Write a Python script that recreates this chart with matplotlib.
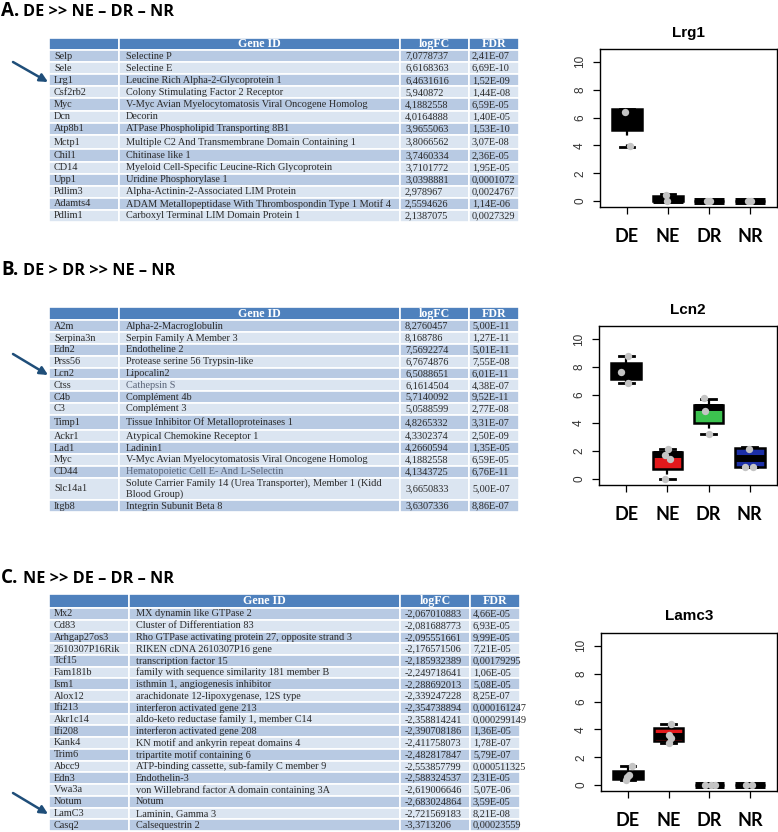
import matplotlib
matplotlib.use("Agg")
import matplotlib.pyplot as plt

W, H = 778, 832

# ---- table data ----
header = ["", "Gene ID", "logFC", "FDR"]

genes_A = ["Selp", "Sele", "Lrg1", "Csf2rb2", "Myc", "Dcn", "Atp8b1", "Mctp1", "Chil1",
           "CD14", "Upp1", "Pdlim3", "Adamts4", "Pdlim1"]
desc_A = ["Selectine P", "Selectine E", "Leucine Rich Alpha-2-Glycoprotein 1",
          "Colony Stimulating Factor 2 Receptor",
          "V-Myc Avian Myelocytomatosis Viral Oncogene Homolog", "Decorin",
          "ATPase Phospholipid Transporting 8B1",
          "Multiple C2 And Transmembrane Domain Containing 1", "Chitinase like 1",
          "Myeloid Cell-Specific Leucine-Rich Glycoprotein", "Uridine Phosphorylase 1",
          "Alpha-Actinin-2-Associated LIM Protein",
          "ADAM Metallopeptidase With Thrombospondin Type 1 Motif 4",
          "Carboxyl Terminal LIM Domain Protein 1"]
logfc_A = ["7,0778737", "6,6168363", "6,4631616", "5,940872", "4,1882558", "4,0164888",
           "3,9655063", "3,8066562", "3,7460334", "3,7101772", "3,0398881", "2,978967",
           "2,5594626", "2,1387075"]
fdr_A = ["2,41E-07", "6,69E-10", "1,52E-09", "1,44E-08", "6,59E-05", "1,40E-05", "1,53E-10",
         "3,07E-08", "2,36E-05", "1,95E-05", "0,0001072", "0,0024767", "1,14E-06", "0,0027329"]

genes_B = ["A2m", "Serpina3n", "Edn2", "Prss56", "Lcn2", "Ctss", "C4b", "C3", "Timp1",
           "Ackr1", "Lad1", "Myc", "CD44", "Slc14a1", "Itgb8"]
desc_B = ["Alpha-2-Macroglobulin", "Serpin Family A Member 3", "Endotheline 2",
          "Protease serine 56 Trypsin-like", "Lipocalin2", "Cathepsin S", "Complément 4b",
          "Complément 3", "Tissue Inhibitor Of Metalloproteinases 1",
          "Atypical Chemokine Receptor 1", "Ladinin1",
          "V-Myc Avian Myelocytomatosis Viral Oncogene Homolog",
          "Hematopoietic Cell E- And L-Selectin",
          "Solute Carrier Family 14 (Urea Transporter), Member 1 (Kidd\nBlood Group)",
          "Integrin Subunit Beta 8"]
logfc_B = ["8,2760457", "8,168786", "7,5692274", "6,7674876", "6,5088651", "6,1614504",
           "5,7140092", "5,0588599", "4,8265332", "4,3302374", "4,2660594", "4,1882558",
           "4,1343725", "3,6650833", "3,6307336"]
fdr_B = ["5,00E-11", "1,27E-11", "5,01E-11", "7,55E-08", "6,01E-11", "4,38E-07", "9,52E-11",
         "2,77E-08", "3,31E-07", "2,50E-09", "1,35E-05", "6,59E-05", "6,76E-11", "5,00E-07",
         "8,86E-07"]

genes_C = ["Mx2", "Cd83", "Arhgap27os3", "2610307P16Rik", "Tcf15", "Fam181b", "Ism1",
           "Alox12", "Ifi213", "Akr1c14", "Ifi208", "Kank4", "Trim6", "Abcc9", "Edn3",
           "Vwa3a", "Notum", "LamC3", "Casq2"]
desc_C = ["MX dynamin like GTPase 2", "Cluster of Differentiation 83",
          "Rho GTPase activating protein 27, opposite strand 3", "RIKEN cDNA 2610307P16 gene",
          "transcription factor 15", "family with sequence similarity 181 member B",
          "isthmin 1, angiogenesis inhibitor", "arachidonate 12-lipoxygenase, 12S type",
          "interferon activated gene 213", "aldo-keto reductase family 1, member C14",
          "interferon activated gene 208", "KN motif and ankyrin repeat domains 4",
          "tripartite motif containing 6", "ATP-binding cassette, sub-family C member 9",
          "Endothelin-3", "von Willebrand factor A domain containing 3A", "Notum",
          "Laminin, Gamma 3", "Calsequestrin 2"]
logfc_C = ["-2,067010883", "-2,081688773", "-2,095551661", "-2,176571506", "-2,185932389",
           "-2,249718641", "-2,288692013", "-2,339247228", "-2,354738894", "-2,358814241",
           "-2,390708186", "-2,411758073", "-2,482817847", "-2,553857799", "-2,588324537",
           "-2,619006646", "-2,683024864", "-2,721569183", "-3,3713206"]
fdr_C = ["4,66E-05", "6,93E-05", "9,99E-05", "7,21E-05", "0,00179295", "1,06E-05",
         "5,08E-05", "8,25E-07", "0,000161247", "0,000299149", "1,36E-05", "1,78E-07",
         "5,79E-07", "0,000511325", "2,31E-05", "5,07E-06", "3,59E-05", "8,21E-08",
         "0,00023559"]

# ---- boxplot data ----
groups = ["DE", "NE", "DR", "NR"]
box_colors = ["black", "#e3191c", "#3cc24f", "#1c2fa6"]

lrg1_lo = [3.9, 0.0, 0.0, 0.0]
lrg1_q1 = [5.1, 0.0, 0.0, 0.0]
lrg1_med = [5.8, 0.1, 0.0, 0.0]
lrg1_q3 = [6.62, 0.35, 0.0, 0.0]
lrg1_hi = [6.62, 0.5, 0.0, 0.0]
lrg1_px = [0.95, 1.07, 1.95, 1.97, 2.95, 3.03, 3.95, 4.03]
lrg1_py = [6.43, 3.93, 0.45, 0.0, 0.0, 0.0, 0.0, 0.0]

lcn2_lo = [6.85, 0.0, 3.2, 0.87]
lcn2_q1 = [7.15, 0.72, 4.0, 0.87]
lcn2_med = [7.6, 1.82, 5.17, 1.5]
lcn2_q3 = [8.28, 1.95, 5.3, 2.22]
lcn2_hi = [8.8, 2.18, 5.72, 2.3]
lcn2_px = [1.05, 0.88, 1.05, 2.02, 1.95, 2.07, 1.95, 2.9, 2.92, 3.0, 3.98, 3.88, 4.07]
lcn2_py = [8.8, 7.62, 6.85, 2.15, 1.75, 1.45, 0.0, 5.75, 4.85, 3.2, 2.15, 0.85, 0.85]

lamc3_lo = [0.35, 3.0, 0.0, 0.0]
lamc3_q1 = [0.45, 3.15, 0.0, 0.0]
lamc3_med = [0.7, 3.5, 0.0, 0.0]
lamc3_q3 = [1.05, 4.1, 0.0, 0.0]
lamc3_hi = [1.4, 4.4, 0.0, 0.0]
lamc3_px = [1.1, 1.02, 0.98, 0.95, 2.05, 2.0, 2.05, 2.0, 2.9, 3.05, 3.15, 3.9, 4.05]
lamc3_py = [1.4, 0.7, 0.55, 0.35, 4.4, 3.6, 3.4, 3.0, 0.0, 0.0, 0.0, 0.0, 0.0]


def frac(x0, y0, x1, y1):
    # pixel box (top-left origin) -> figure fraction
    return [x0 / W, 1 - y1 / H, (x1 - x0) / W, (y1 - y0) / H]


def draw_table(fig, cols_px, top, bottom, genes, desc, logfc, fdr, header_h, row_h,
               dim_rows=()):
    ax = fig.add_axes(frac(cols_px[0], top, cols_px[-1], bottom))
    ax.axis("off")
    widths = [cols_px[i + 1] - cols_px[i] for i in range(4)]
    pads = [5, 7, 5, 3]
    rows = [[g, d, l, f] for g, d, l, f in zip(genes, desc, logfc, fdr)]
    tab = ax.table(cellText=rows, colLabels=header, colWidths=widths,
                   cellLoc="left", colLoc="center", bbox=[0, 0, 1, 1])
    tab.auto_set_font_size(False)
    tab.set_fontsize(7.4)
    for (r, c), cell in tab.get_celld().items():
        cell.set_edgecolor("white")
        cell.set_linewidth(1.2)
        cell.PAD = pads[c] / widths[c]
        txt = cell.get_text()
        txt.set_fontfamily("Liberation Serif")
        if r == 0:
            cell.set_facecolor("#4f81bd")
            cell.set_height(header_h)
            txt.set_color("white")
            txt.set_fontweight("bold")
            txt.set_fontsize(8.6)
        else:
            cell.set_facecolor("#b8cae3" if (r - 1) % 2 == 0 else "#dbe5f1")
            cell.set_height(row_h[r - 1])
            txt.set_color("#5a6478" if (c == 1 and (r - 1) in dim_rows) else "#2a2a2a")
    return ax


def draw_box(fig, rect, title, lo, q1, med, q3, hi, px, py):
    ax = fig.add_axes(frac(*rect))
    stats = []
    for i in range(len(groups)):
        stats.append(dict(whislo=lo[i], q1=q1[i], med=med[i], q3=q3[i], whishi=hi[i],
                          fliers=[]))
    bp = ax.bxp(stats, positions=range(1, len(groups) + 1), widths=0.72, capwidths=0.36,
                patch_artist=True, showfliers=False,
                boxprops=dict(edgecolor="black", linewidth=1.8),
                medianprops=dict(color="black", linewidth=5, solid_capstyle="butt"),
                whiskerprops=dict(color="black", linewidth=1.6, linestyle=(0, (2.5, 4))),
                capprops=dict(color="black", linewidth=2))
    for patch, col in zip(bp["boxes"], box_colors):
        patch.set_facecolor(col)
    ax.scatter(px, py, s=28, color="#c4c4c4", zorder=5, linewidths=0)
    ax.set_xlim(0.34, 4.66)
    ax.set_ylim(-0.42, 10.92)
    ax.set_yticks([0, 2, 4, 6, 8, 10])
    ax.set_yticklabels(["0", "2", "4", "6", "8", "10"], rotation=90, va="center",
                       fontsize=8.5, family="Liberation Sans", color="#333333")
    ax.set_xticks(range(1, len(groups) + 1))
    ax.set_xticklabels(groups, fontsize=13, fontweight="bold", family="Lato")
    ax.tick_params(axis="y", length=5, width=0.9, pad=5)
    ax.tick_params(axis="x", length=5, width=0.9, pad=10)
    for sp in ax.spines.values():
        sp.set_linewidth(1.0)
    ax.set_title(title, fontsize=11, fontweight="bold", family="Liberation Sans", pad=9)
    return ax


fig = plt.figure(figsize=(W / 100, H / 100), dpi=100)

# panel titles
for letter, rest, base in [("A.", "DE >> NE \u2013 DR \u2013 NR", 16),
                           ("B.", "DE > DR >> NE \u2013 NR", 275),
                           ("C.", "NE >> DE \u2013 DR \u2013 NR", 583)]:
    fig.text(1 / W, 1 - base / H, letter, fontsize=13.5, fontweight="bold",
             family="Open Sans", va="baseline")
    fig.text(23 / W, 1 - base / H, rest, fontsize=11.7, fontweight="bold",
             family="Open Sans", va="baseline")

# tables
rows_A = [12] * len(genes_A)
rows_A[7] = 14.5
draw_table(fig, [49, 119, 400, 469, 519], 38, 222, genes_A, desc_A, logfc_A, fdr_A, 12, rows_A)

rows_B = [11.5] * len(genes_B)
rows_B[8] = 15
rows_B[13] = 22
draw_table(fig, [49, 119, 400, 469, 519], 307, 512, genes_B, desc_B, logfc_B, fdr_B, 13,
           rows_B, dim_rows=(5, 12))

rows_C = [11.7] * len(genes_C)
draw_table(fig, [49, 129, 400, 470, 520], 594, 831, genes_C, desc_C, logfc_C, fdr_C, 14,
           rows_C)

# boxplots
draw_box(fig, (600, 49, 777, 207), "Lrg1", lrg1_lo, lrg1_q1, lrg1_med, lrg1_q3, lrg1_hi,
         lrg1_px, lrg1_py)
draw_box(fig, (599, 326, 777, 485), "Lcn2", lcn2_lo, lcn2_q1, lcn2_med, lcn2_q3, lcn2_hi,
         lcn2_px, lcn2_py)
draw_box(fig, (601, 633, 777, 791), "Lamc3", lamc3_lo, lamc3_q1, lamc3_med, lamc3_q3,
         lamc3_hi, lamc3_px, lamc3_py)

# arrows pointing at the highlighted genes
over = fig.add_axes([0, 0, 1, 1], zorder=10)
over.set_xlim(0, W)
over.set_ylim(H, 0)
over.axis("off")
over.patch.set_alpha(0)
for y0, y1 in [(62, 82), (354, 375), (793, 814)]:
    over.annotate("", xy=(48, y1), xytext=(13, y0),
                  arrowprops=dict(arrowstyle="-|>", color="#1f4e79", lw=1.8,
                                  mutation_scale=12, shrinkA=0, shrinkB=0))

fig.savefig("out.png", dpi=100)
